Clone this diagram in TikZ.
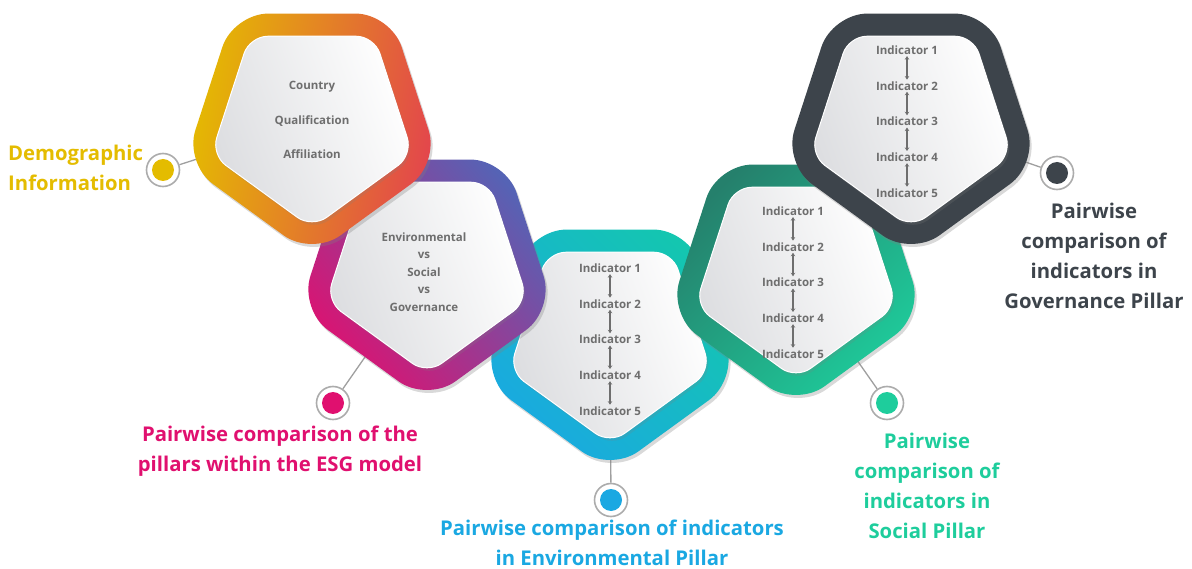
\documentclass[tikz,border=0pt]{standalone}
\usepackage{fontspec}
\setmainfont{Open Sans}
\usepackage{tikz}
\usetikzlibrary{shapes.geometric}
\usetikzlibrary{shadows}
\usetikzlibrary{arrows.meta}

\definecolor{esgGold}{HTML}{E4BC00}
\definecolor{esgOrange}{HTML}{EC8A2C}
\definecolor{esgRed}{HTML}{E3434E}
\definecolor{esgPink}{HTML}{E0106F}
\definecolor{esgPurple}{HTML}{8A3FA0}
\definecolor{esgViolet}{HTML}{5563B5}
\definecolor{esgBlue}{HTML}{1AA8E2}
\definecolor{esgTeal}{HTML}{14C6B0}
\definecolor{esgGreen}{HTML}{1ECD9C}
\definecolor{esgPine}{HTML}{25806C}
\definecolor{esgSlate}{HTML}{3D444B}
\definecolor{esgText}{HTML}{6E6E6E}
\definecolor{esgCore}{HTML}{DCDDE0}

\tikzset{
  ring/.style={regular polygon, regular polygon sides=5, shape border rotate=180,
    minimum size=268pt, inner sep=0pt, outer sep=0pt, rounded corners=35pt,
    drop shadow={opacity=.3, shadow xshift=2pt, shadow yshift=-3pt}},
  core/.style={regular polygon, regular polygon sides=5, shape border rotate=180,
    minimum size=212pt, inner sep=0pt, outer sep=0pt, rounded corners=18pt,
    draw=white, line width=1pt, left color=esgCore, right color=white, shading angle=110,
    drop shadow={opacity=.2, shadow xshift=2pt, shadow yshift=-3pt}},
  coretext/.style={text=esgText, font=\bfseries\fontsize{11.5}{14}\selectfont, inner sep=1.5pt, align=center},
  pair/.style={{Stealth[length=3.5pt,width=4.5pt]}-{Stealth[length=3.5pt,width=4.5pt]},
    draw=esgText, line width=1.2pt},
  dot/.style={circle, draw=gray!65, line width=1.6pt, fill=white, minimum size=33pt, inner sep=0pt,
    path picture={\fill[#1] (path picture bounding box.center) circle (11pt);}},
  link/.style={draw=gray!75, line width=1.3pt},
  caption/.style={font=\bfseries\fontsize{20.3}{30}\selectfont, align=center, inner sep=0pt}
}

\begin{document}
\begin{tikzpicture}[x=1pt, y=-1pt]
    \useasboundingbox (0,0) rectangle (1192,569);

    % centres of the five pillars
    \coordinate (demC) at (312,122);
    \coordinate (pilC) at (427,268);
    \coordinate (envC) at (610,338);
    \coordinate (socC) at (796,273);
    \coordinate (govC) at (911,122);

    % dots and their links, drawn under the pentagons
    \node[dot=esgGold] (demDot) at (163,170) {};
    \node[dot=esgPink] (pilDot) at (333,403) {};
    \node[dot=esgBlue] (envDot) at (611,500) {};
    \node[dot=esgGreen] (socDot) at (887,403) {};
    \node[dot=esgSlate] (govDot) at (1057,173) {};
    \draw[link] (demDot) -- (demC);
    \draw[link] (pilDot) -- (pilC);
    \draw[link] (envDot) -- (envC);
    \draw[link] (socDot) -- (socC);
    \draw[link] (govDot) -- (govC);

    % pentagons
    \node[ring, left color=esgBlue, right color=esgTeal, shading angle=135] (envRing) at (envC) {};
    \node[core] (envCore) at (envC) {};
    \node[ring, left color=esgPink, middle color=esgPink!55!esgPurple, right color=esgViolet, shading angle=130] (pilRing) at (pilC) {};
    \node[core] (pilCore) at (pilC) {};
    \node[ring, left color=esgPine, middle color=esgGreen!85!esgPine, right color=esgGreen, shading angle=45] (socRing) at (socC) {};
    \node[core] (socCore) at (socC) {};
    \node[ring, left color=esgGold, middle color=esgGold!85!esgOrange, right color=esgRed, shading angle=80] (demRing) at (demC) {};
    \node[core] (demCore) at (demC) {};
    \node[ring, fill=esgSlate] (govRing) at (govC) {};
    \node[core] (govCore) at (govC) {};

    % texts inside
    \node[coretext, font=\bfseries\fontsize{11.5}{34.5}\selectfont] (demText) at (312,120) {Country\\Qualification\\Affiliation};
    \node[coretext, font=\bfseries\fontsize{11.5}{17.5}\selectfont] (pilText) at (424,272) {Environmental\\vs\\Social\\vs\\Governance};
    \foreach \p/\x/\y in {env/610/268, soc/793/211, gov/907/50} {
        \foreach \i in {1,...,5}
            \node[coretext] (\p\i) at (\x,{\y+35.7*(\i-1)}) {Indicator \i};
        \foreach \i [count=\j from 2] in {1,...,4}
            \draw[pair] (\p\i) -- (\p\j);
    }

    % captions
    \node[caption, text=esgGold, align=left, anchor=west] (demCap) at (8,168) {Demographic\\Information};
    \node[caption, text=esgPink] (pilCap) at (280,451) {Pairwise comparison of the\\pillars within the ESG model};
    \node[caption, text=esgBlue] (envCap) at (612,543) {Pairwise comparison of indicators\\in Environmental Pillar};
    \node[caption, text=esgGreen] (socCap) at (927,486) {Pairwise\\comparison of\\indicators in\\Social Pillar};
    \node[caption, text=esgSlate] (govCap) at (1094,256) {Pairwise\\comparison of\\indicators in\\Governance Pillar};
\end{tikzpicture}
\end{document}
